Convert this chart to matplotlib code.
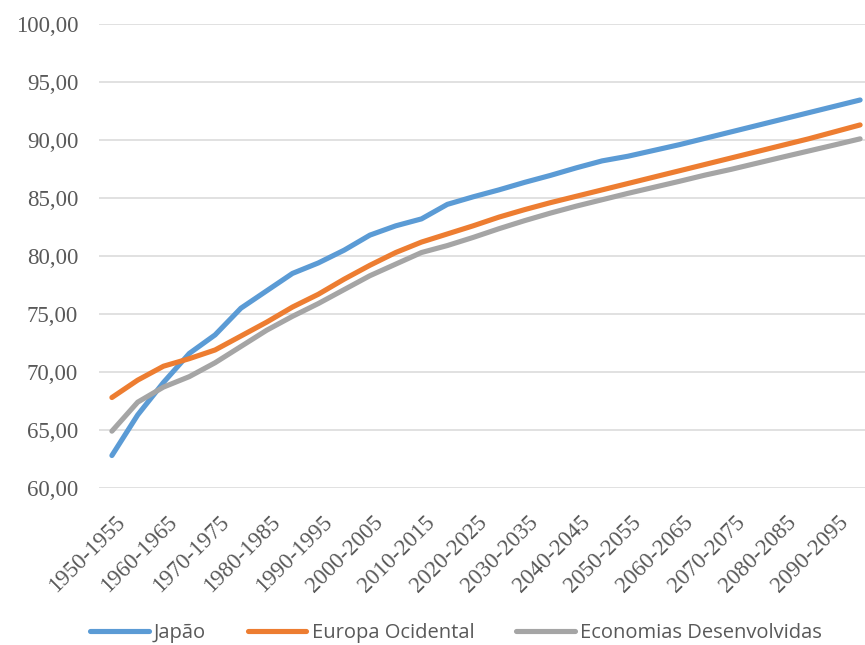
import matplotlib
matplotlib.use("Agg")
import matplotlib.pyplot as plt
import matplotlib.transforms as mtransforms
from matplotlib import font_manager as fm

# Life expectancy at birth (years), five-year periods 1950-1955 ... 2095-2100
periods = [f"{y}-{y + 5}" for y in range(1950, 2100, 5)]

japao = [62.8, 66.3, 69.1, 71.6, 73.2, 75.5, 77.0, 78.5, 79.4, 80.5,
         81.8, 82.6, 83.2, 84.45, 85.1, 85.7, 86.35, 86.95, 87.6, 88.2,
         88.6, 89.1, 89.6, 90.15, 90.7, 91.25, 91.8, 92.35, 92.9, 93.45]
europa_ocidental = [67.8, 69.3, 70.5, 71.15, 71.9, 73.1, 74.3, 75.6, 76.7, 78.0,
                    79.2, 80.3, 81.2, 81.9, 82.6, 83.35, 84.0, 84.6, 85.15, 85.7,
                    86.25, 86.8, 87.35, 87.9, 88.45, 89.0, 89.55, 90.1, 90.7, 91.3]
economias_desenvolvidas = [64.9, 67.4, 68.7, 69.6, 70.8, 72.2, 73.6, 74.8, 75.9, 77.1,
                           78.3, 79.3, 80.3, 80.9, 81.6, 82.35, 83.05, 83.7, 84.3, 84.85,
                           85.4, 85.92, 86.44, 86.98, 87.47, 88.0, 88.53, 89.05, 89.57, 90.1]

series = [
    ("Japão", japao, "#5B9BD5"),
    ("Europa Ocidental", europa_ocidental, "#ED7D31"),
    ("Economias Desenvolvidas", economias_desenvolvidas, "#A5A5A5"),
]

yticks = [60, 65, 70, 75, 80, 85, 90, 95, 100]
label_color = "#595959"

# Pick a Times-like face for the axis labels
installed = {f.name for f in fm.fontManager.ttflist}
serif_face = next((n for n in ("Liberation Serif", "Tinos", "TeX Gyre Termes",
                               "Nimbus Roman", "STIX Two Text", "STIXGeneral")
                   if n in installed), "DejaVu Serif")
tick_font = fm.FontProperties(family=serif_face, size=16.5)

fig = plt.figure(figsize=(8.65, 6.45), dpi=100)
ax = fig.add_axes([99 / 865, 157 / 645, 774 / 865, 464 / 645])

x = list(range(len(periods)))
for name, vals, color in series:
    ax.plot(x, vals, color=color, lw=3.7, solid_capstyle="round",
            solid_joinstyle="round", label=name, zorder=3)

ax.set_xlim(-0.5, len(periods) - 0.5)
ax.set_ylim(60, 100)
ax.set_yticks(yticks)
ax.set_yticklabels([f"{v:.2f}".replace(".", ",") for v in yticks])
ax.grid(axis="y", color="#D9D9D9", lw=1.1, zorder=0)
ax.set_axisbelow(True)
for s in ax.spines.values():
    s.set_visible(False)
ax.tick_params(axis="y", length=0, pad=15, labelcolor=label_color)

ax.set_xticks(x[::2])
ax.set_xticklabels(periods[::2], rotation=45, ha="right", va="top",
                   rotation_mode="anchor")
ax.tick_params(axis="x", length=0, pad=17, labelcolor=label_color)
shift = mtransforms.ScaledTranslation(3 / 100, 0, fig.dpi_scale_trans)
for lab in ax.get_xticklabels():
    lab.set_transform(lab.get_transform() + shift)
    lab.set_fontproperties(tick_font)
for lab in ax.get_yticklabels():
    lab.set_fontproperties(tick_font)

leg = fig.legend(loc="center", bbox_to_anchor=(456 / 865, 12 / 645), ncol=3,
                 frameon=False, handlelength=2.9, handletextpad=0.25,
                 columnspacing=2.1,
                 prop={"family": "Open Sans", "size": 14.5})
for t in leg.get_texts():
    t.set_color(label_color)
for h in leg.get_lines():
    h.set_linewidth(3.7)
    h.set_solid_capstyle("round")

fig.savefig("out.png", dpi=100)
